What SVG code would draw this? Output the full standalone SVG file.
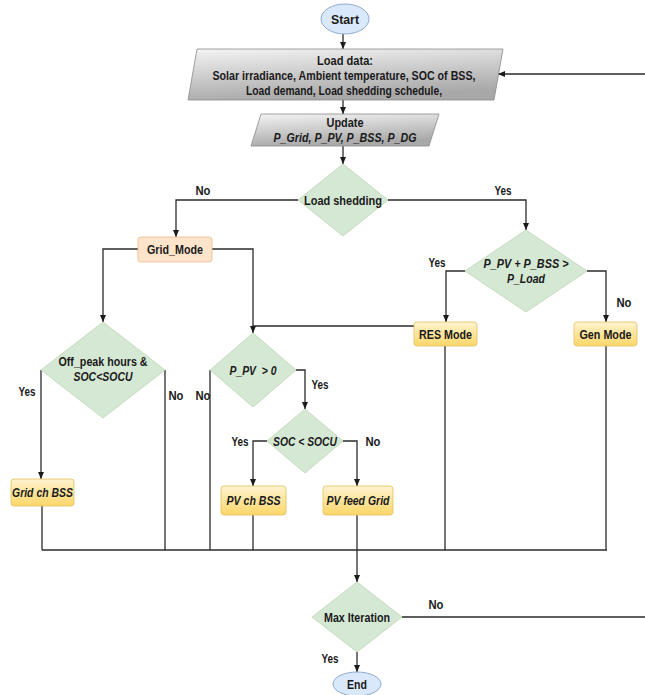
<svg xmlns="http://www.w3.org/2000/svg" width="645" height="695" viewBox="0 0 645 695">
<style>
text{font-family:"Liberation Sans",Arial,sans-serif;font-size:12.5px;font-weight:bold;fill:#1a1a1a;text-anchor:middle}
.it{font-style:italic}
.term{fill:#dae8fc;stroke:#8fa9d0;stroke-width:1}
.io{fill:url(#gGray);stroke:#8a8a8a;stroke-width:0.8}
.dec{fill:#d5e8d4;stroke:#bcd5b4;stroke-width:0.8}
.mode{fill:url(#gYel);stroke:#e0c060;stroke-width:0.8}
.grid{fill:#fde4cb;stroke:#e9b98a;stroke-width:0.8}
.ln{fill:none;stroke:#2b2b2b;stroke-width:1.3}
.arr{marker-end:url(#ah)}
</style>
<defs>
<linearGradient id="gGray" x1="0" y1="0" x2="0.3" y2="1">
<stop offset="0" stop-color="#f4f4f4"/>
<stop offset="1" stop-color="#a8a8a8"/>
</linearGradient>
<linearGradient id="gYel" x1="0" y1="0" x2="0" y2="1">
<stop offset="0" stop-color="#fff4d0"/>
<stop offset="1" stop-color="#fdd668"/>
</linearGradient>
<marker id="ah" markerUnits="userSpaceOnUse" markerWidth="8" markerHeight="8" refX="7" refY="3" orient="auto">
<path d="M0,0 L7,3 L0,6 z" fill="#1a1a1a"/>
</marker>
</defs>
<rect width="645" height="695" fill="#ffffff"/>

<g id="connectors">
<path class="ln arr" d="M343,34 V49"/>
<path class="ln arr" d="M343,100 V114"/>
<path class="ln arr" d="M343,146 V164"/>
<path class="ln arr" d="M298,200 H176 V237"/>
<path class="ln arr" d="M388,200 H526 V230"/>
<path class="ln arr" d="M465,271 H446 V322"/>
<path class="ln arr" d="M587,271 H606 V322"/>
<path class="ln arr" d="M138,249 H103 V322"/>
<path class="ln arr" d="M212,249 H253 V333"/>
<path class="ln" d="M414,326 H253"/>
<path class="ln arr" d="M296,370 H305 V409"/>
<path class="ln arr" d="M267,441 H253 V486"/>
<path class="ln arr" d="M343,441 H357 V486"/>
<path class="ln arr" d="M41,370 V479"/>
<path class="ln" d="M165,370 V550"/>
<path class="ln" d="M210,370 V550"/>
<path class="ln" d="M42,506 V550"/>
<path class="ln" d="M253,515 V550"/>
<path class="ln" d="M445,346 V550"/>
<path class="ln" d="M606,346 V550"/>
<path class="ln" d="M42,550 H607"/>
<path class="ln arr" d="M357,515 V582"/>
<path class="ln arr" d="M357,652 V672"/>
<path class="ln arr" d="M402,617 H680 V74 H498"/>
<text x="203" y="195" textLength="15" lengthAdjust="spacingAndGlyphs">No</text>
<text x="503" y="195" textLength="17" lengthAdjust="spacingAndGlyphs">Yes</text>
<text x="437" y="267" textLength="17" lengthAdjust="spacingAndGlyphs">Yes</text>
<text x="624" y="307" textLength="15" lengthAdjust="spacingAndGlyphs">No</text>
<text x="27" y="396" textLength="17" lengthAdjust="spacingAndGlyphs">Yes</text>
<text x="176" y="400" textLength="15" lengthAdjust="spacingAndGlyphs">No</text>
<text x="203" y="400" textLength="15" lengthAdjust="spacingAndGlyphs">No</text>
<text x="320" y="389" textLength="17" lengthAdjust="spacingAndGlyphs">Yes</text>
<text x="240" y="446" textLength="17" lengthAdjust="spacingAndGlyphs">Yes</text>
<text x="373" y="446" textLength="15" lengthAdjust="spacingAndGlyphs">No</text>
<text x="436" y="609" textLength="15" lengthAdjust="spacingAndGlyphs">No</text>
<text x="330" y="663" textLength="17" lengthAdjust="spacingAndGlyphs">Yes</text>
</g>

<g id="start">
<ellipse class="term" cx="345" cy="19" rx="24" ry="15"/>
<text x="345" y="23.5" textLength="28" lengthAdjust="spacingAndGlyphs">Start</text>
</g>

<g id="load-data">
<polygon class="io" points="197,49 503,49 494,100 188,100"/>
<text x="345" y="64.5" textLength="56" lengthAdjust="spacingAndGlyphs">Load data:</text>
<text x="344" y="80" textLength="263" lengthAdjust="spacingAndGlyphs">Solar irradiance, Ambient temperature, SOC of BSS,</text>
<text x="344" y="95" textLength="196" lengthAdjust="spacingAndGlyphs">Load demand, Load shedding schedule,</text>
</g>

<g id="update">
<polygon class="io" points="261,114 439,114 429,146 251,146"/>
<text x="345" y="127" textLength="37" lengthAdjust="spacingAndGlyphs">Update</text>
<text class="it" x="345" y="142" textLength="143" lengthAdjust="spacingAndGlyphs">P_Grid, P_PV, P_BSS, P_DG</text>
</g>

<g id="load-shedding">
<polygon class="dec" points="343,164 388,200 343,236 298,200"/>
<text x="343" y="204.5" textLength="78" lengthAdjust="spacingAndGlyphs">Load shedding</text>
</g>

<g id="grid-mode">
<rect class="grid" x="138" y="237" width="74" height="25" rx="3"/>
<text x="175" y="253.5" textLength="56" lengthAdjust="spacingAndGlyphs">Grid_Mode</text>
</g>

<g id="pv-bss-load">
<polygon class="dec" points="526,230 587,271 526,312 465,271"/>
<text class="it" x="526" y="268" textLength="85" lengthAdjust="spacingAndGlyphs">P_PV + P_BSS &gt;</text>
<text class="it" x="526" y="282.5" textLength="38" lengthAdjust="spacingAndGlyphs">P_Load</text>
</g>

<g id="res-mode">
<rect class="mode" x="414" y="322" width="63" height="24" rx="3"/>
<text x="445.5" y="338.5" textLength="53" lengthAdjust="spacingAndGlyphs">RES Mode</text>
</g>

<g id="gen-mode">
<rect class="mode" x="574" y="322" width="63" height="24" rx="3"/>
<text x="605.5" y="338.5" textLength="52" lengthAdjust="spacingAndGlyphs">Gen Mode</text>
</g>

<g id="off-peak">
<polygon class="dec" points="103,322 165,370 103,418 41,370"/>
<text x="103" y="366" textLength="89" lengthAdjust="spacingAndGlyphs">Off_peak hours &amp;</text>
<text class="it" x="103" y="380.5" textLength="59" lengthAdjust="spacingAndGlyphs">SOC&lt;SOCU</text>
</g>

<g id="ppv-pos">
<polygon class="dec" points="253,333 296,370 253,407 210,370"/>
<text class="it" x="253" y="374.5" textLength="47" lengthAdjust="spacingAndGlyphs" xml:space="preserve">P_PV  &gt; 0</text>
</g>

<g id="soc-socu">
<polygon class="dec" points="305,409 343,441 305,473 267,441"/>
<text class="it" x="305" y="445.5" textLength="64" lengthAdjust="spacingAndGlyphs">SOC &lt; SOCU</text>
</g>

<g id="grid-ch-bss">
<rect class="mode" x="11" y="479" width="63" height="27" rx="3"/>
<text class="it" x="42.5" y="497" textLength="61" lengthAdjust="spacingAndGlyphs">Grid ch BSS</text>
</g>

<g id="pv-ch-bss">
<rect class="mode" x="221" y="486" width="65" height="29" rx="3"/>
<text class="it" x="253.5" y="505" textLength="54" lengthAdjust="spacingAndGlyphs">PV ch BSS</text>
</g>

<g id="pv-feed-grid">
<rect class="mode" x="323" y="486" width="70" height="29" rx="3"/>
<text class="it" x="358" y="505" textLength="63" lengthAdjust="spacingAndGlyphs">PV feed Grid</text>
</g>

<g id="max-iteration">
<polygon class="dec" points="357,582 402,617 357,652 312,617"/>
<text x="357" y="621.5" textLength="66" lengthAdjust="spacingAndGlyphs">Max Iteration</text>
</g>

<g id="end">
<ellipse class="term" cx="357" cy="684" rx="24" ry="12"/>
<text x="357" y="688.5" textLength="20" lengthAdjust="spacingAndGlyphs">End</text>
</g>
</svg>
